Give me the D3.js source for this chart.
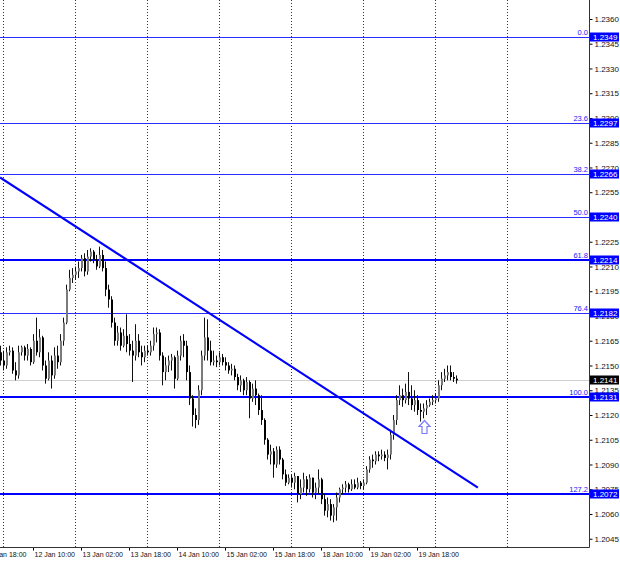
<!DOCTYPE html>
<html>
<head>
<meta charset="utf-8">
<script src="https://cdn.jsdelivr.net/npm/d3@7"></script>
<style>
  body { margin: 0; background: #fff; }
  svg { display: block; font-family: "Liberation Sans", Arial, sans-serif; }
</style>
</head>
<body>
<svg id="chart"></svg>
<script>
// H1 bars, bar 0 = 12 Jan 00:00 (weekend hours are skipped)
const firstBar = -1;
const firstOpen = 1.2158;
const closes = [
  1.2153, 1.2150, 1.2158, 1.2159, 1.2147, 1.2144, 1.2158, 1.2161, 1.2156, 1.2160, 1.2152,
  1.2165, 1.2158, 1.2167, 1.2150, 1.2142, 1.2153, 1.2144, 1.2156, 1.2152, 1.2165,
  1.2176, 1.2196, 1.2203, 1.2205, 1.2207, 1.2209, 1.2215, 1.2207, 1.2216, 1.2219,
  1.2214, 1.2210, 1.2217, 1.2209, 1.2196, 1.2190, 1.2176, 1.2165, 1.2170, 1.2162,
  1.2168, 1.2163, 1.2159, 1.2156, 1.2165, 1.2158, 1.2155, 1.2159, 1.2158, 1.2162,
  1.2169, 1.2170, 1.2156, 1.2146, 1.2150, 1.2153, 1.2155, 1.2142, 1.2156, 1.2165,
  1.2162, 1.2146, 1.2130, 1.2120, 1.2117, 1.2135, 1.2156, 1.2167, 1.2159, 1.2152,
  1.2153, 1.2152, 1.2155, 1.2152, 1.2150, 1.2147, 1.2148, 1.2143, 1.2138, 1.2141,
  1.2135, 1.2140, 1.2130, 1.2136, 1.2132, 1.2123, 1.2117, 1.2105, 1.2096, 1.2098,
  1.2090, 1.2099, 1.2093, 1.2084, 1.2079, 1.2082, 1.2079, 1.2083, 1.2072, 1.2076,
  1.2081, 1.2075, 1.2082, 1.2073, 1.2076, 1.2081, 1.2069, 1.2062, 1.2066, 1.2059,
  1.2064, 1.2070, 1.2075, 1.2076, 1.2078, 1.2075, 1.2078, 1.2076, 1.2079, 1.2077,
  1.2079, 1.2087, 1.2093, 1.2092, 1.2096, 1.2095, 1.2096, 1.2094, 1.2096, 1.2108,
  1.2117, 1.2129, 1.2132, 1.2129, 1.2134, 1.2130, 1.2126, 1.2129, 1.2123, 1.2122,
  1.2124, 1.2126, 1.2128, 1.2129, 1.2130, 1.2138, 1.2142, 1.2144, 1.2146, 1.2143, 1.2142, 1.2141
];
const highs = [
  1.2162, 1.2159, 1.2161, 1.2162, 1.2161, 1.2152, 1.2162, 1.2162, 1.2162, 1.2163, 1.2161,
  1.2169, 1.2179, 1.2172, 1.2168, 1.2153, 1.2158, 1.2156, 1.2161, 1.2162, 1.2169,
  1.2179, 1.2199, 1.2208, 1.2209, 1.2210, 1.2213, 1.2217, 1.2218, 1.2220, 1.2221,
  1.2220, 1.2217, 1.2222, 1.2220, 1.2213, 1.2199, 1.2192, 1.2179, 1.2174, 1.2173,
  1.2172, 1.2181, 1.2169, 1.2165, 1.2175, 1.2169, 1.2162, 1.2162, 1.2162, 1.2165,
  1.2173, 1.2173, 1.2172, 1.2158, 1.2155, 1.2156, 1.2157, 1.2156, 1.2159, 1.2168,
  1.2169, 1.2165, 1.2150, 1.2132, 1.2124, 1.2138, 1.2159, 1.2179, 1.2178, 1.2165,
  1.2159, 1.2156, 1.2158, 1.2157, 1.2155, 1.2152, 1.2151, 1.2150, 1.2145, 1.2144,
  1.2142, 1.2143, 1.2141, 1.2139, 1.2141, 1.2133, 1.2132, 1.2118, 1.2106, 1.2102,
  1.2100, 1.2101, 1.2101, 1.2094, 1.2087, 1.2084, 1.2084, 1.2085, 1.2082, 1.2081,
  1.2085, 1.2083, 1.2084, 1.2081, 1.2079, 1.2087, 1.2082, 1.2072, 1.2070, 1.2069,
  1.2066, 1.2073, 1.2076, 1.2078, 1.2080, 1.2079, 1.2081, 1.2081, 1.2082, 1.2080,
  1.2081, 1.2089, 1.2095, 1.2096, 1.2098, 1.2098, 1.2099, 1.2098, 1.2099, 1.2111,
  1.2120, 1.2132, 1.2138, 1.2136, 1.2139, 1.2146, 1.2138, 1.2135, 1.2132, 1.2127,
  1.2127, 1.2129, 1.2130, 1.2132, 1.2133, 1.2141, 1.2146, 1.2148, 1.2150, 1.2150, 1.2146, 1.2144
];
const lows = [
  1.2150, 1.2147, 1.2148, 1.2156, 1.2145, 1.2141, 1.2142, 1.2156, 1.2153, 1.2153, 1.2150,
  1.2151, 1.2156, 1.2155, 1.2147, 1.2139, 1.2141, 1.2136, 1.2142, 1.2148, 1.2150,
  1.2162, 1.2175, 1.2195, 1.2200, 1.2202, 1.2203, 1.2207, 1.2204, 1.2205, 1.2213,
  1.2212, 1.2208, 1.2209, 1.2207, 1.2192, 1.2185, 1.2173, 1.2162, 1.2162, 1.2159,
  1.2161, 1.2158, 1.2156, 1.2140, 1.2153, 1.2155, 1.2150, 1.2152, 1.2156, 1.2156,
  1.2159, 1.2164, 1.2153, 1.2138, 1.2141, 1.2146, 1.2147, 1.2136, 1.2141, 1.2153,
  1.2155, 1.2141, 1.2126, 1.2113, 1.2112, 1.2114, 1.2132, 1.2153, 1.2153, 1.2150,
  1.2150, 1.2149, 1.2150, 1.2150, 1.2147, 1.2145, 1.2144, 1.2141, 1.2135, 1.2134,
  1.2132, 1.2132, 1.2118, 1.2128, 1.2126, 1.2120, 1.2114, 1.2102, 1.2093, 1.2090,
  1.2082, 1.2088, 1.2090, 1.2081, 1.2077, 1.2078, 1.2076, 1.2075, 1.2067, 1.2069,
  1.2073, 1.2071, 1.2073, 1.2070, 1.2069, 1.2072, 1.2066, 1.2059, 1.2058, 1.2056,
  1.2055, 1.2056, 1.2067, 1.2072, 1.2073, 1.2073, 1.2074, 1.2075, 1.2075, 1.2075,
  1.2075, 1.2078, 1.2085, 1.2088, 1.2090, 1.2092, 1.2093, 1.2092, 1.2087, 1.2093,
  1.2105, 1.2114, 1.2126, 1.2125, 1.2127, 1.2126, 1.2123, 1.2122, 1.2120, 1.2116,
  1.2118, 1.2120, 1.2125, 1.2126, 1.2127, 1.2128, 1.2135, 1.2140, 1.2141, 1.2141, 1.2140, 1.2139
];

// fibonacci grid
const fibNames = ["0.0", "23.6", "38.2", "50.0", "61.8", "76.4", "100.0", "127.2"];
const fibLevels = [1.2349, 1.2297, 1.2266, 1.2240, 1.2214, 1.2182, 1.2131, 1.2072];
const lastPrice = 1.2141;

// axes
const priceTicks = [1.2045, 1.2060, 1.2075, 1.2090, 1.2105, 1.2120, 1.2135, 1.2150, 1.2165,
  1.2180, 1.2195, 1.2210, 1.2225, 1.2240, 1.2255, 1.2270, 1.2285, 1.2300, 1.2315, 1.2330,
  1.2345, 1.2360];
const timeTickBars = [-6, 10, 26, 42, 58, 74, 90, 106, 122, 138];
const timeTickLabels = ["11 Jan 18:00", "12 Jan 10:00", "13 Jan 02:00", "13 Jan 18:00",
  "14 Jan 10:00", "15 Jan 02:00", "15 Jan 18:00", "18 Jan 10:00", "19 Jan 02:00", "19 Jan 18:00"];
const daySeparatorBars = [0, 24, 48, 72, 96, 120, 144, 168];

// trend line and the arrow mark
const trendBars = [-1, 158.3];
const trendPrices = [1.2264, 1.2076];
const arrowBar = 140.3;
const arrowPrice = 1.2117;

const candles = closes.map((c, k) => {
  const o = k === 0 ? firstOpen : closes[k - 1];
  return { bar: firstBar + k, o: o, c: c, h: Math.max(highs[k], o, c), l: Math.min(lows[k], o, c) };
});

const width = 620, height = 563;
const plotW = 589, plotH = 547;

const svg = d3.select("#chart").attr("width", width).attr("height", height);

const x = d3.scaleLinear().domain([-1, 195.33]).range([0, plotW]);
const y = d3.scaleLinear().domain([1.2040, 1.23715]).range([plotH, 0]);

svg.append("defs").append("clipPath").attr("id", "plot")
  .append("rect").attr("width", plotW).attr("height", plotH);

const plot = svg.append("g").attr("clip-path", "url(#plot)");

// day separators
plot.selectAll("line.sep")
  .data(daySeparatorBars)
  .join("line")
  .attr("class", "sep")
  .attr("x1", d => Math.round(x(d)) + 0.5)
  .attr("x2", d => Math.round(x(d)) + 0.5)
  .attr("y1", 0)
  .attr("y2", plotH)
  .attr("stroke", "#333")
  .attr("stroke-dasharray", "1,2");

// current price line
plot.append("line")
  .attr("x1", 0).attr("x2", plotW)
  .attr("y1", Math.round(y(lastPrice)) + 0.5)
  .attr("y2", Math.round(y(lastPrice)) + 0.5)
  .attr("stroke", "#cfcfcf");

// fibo levels, three of them drawn heavier
const thick = ["61.8", "100.0", "127.2"];
plot.selectAll("line.fib")
  .data(fibLevels)
  .join("line")
  .attr("class", "fib")
  .attr("x1", 0).attr("x2", plotW)
  .attr("y1", (d, i) => thick.includes(fibNames[i]) ? Math.round(y(d)) : Math.round(y(d)) + 0.5)
  .attr("y2", (d, i) => thick.includes(fibNames[i]) ? Math.round(y(d)) : Math.round(y(d)) + 0.5)
  .attr("stroke", (d, i) => thick.includes(fibNames[i]) ? "#0000ff" : "#2b2bff")
  .attr("stroke-width", (d, i) => thick.includes(fibNames[i]) ? 2 : 1.2);

// candles
plot.selectAll("line.wick")
  .data(candles)
  .join("line")
  .attr("class", "wick")
  .attr("x1", d => Math.round(x(d.bar)) + 0.5)
  .attr("x2", d => Math.round(x(d.bar)) + 0.5)
  .attr("y1", d => y(d.h))
  .attr("y2", d => y(d.l))
  .attr("stroke", "#111");

plot.selectAll("rect.body")
  .data(candles)
  .join("rect")
  .attr("class", "body")
  .attr("x", d => Math.round(x(d.bar)))
  .attr("y", d => y(Math.max(d.o, d.c)))
  .attr("width", 2)
  .attr("height", d => Math.max(1, Math.abs(y(d.o) - y(d.c))))
  .attr("fill", d => d.c >= d.o ? "#7a7a7a" : "#000");

// trend line
plot.append("line")
  .attr("x1", x(trendBars[0])).attr("y1", y(trendPrices[0]))
  .attr("x2", x(trendBars[1])).attr("y2", y(trendPrices[1]))
  .attr("stroke", "#0000ff")
  .attr("stroke-width", 2.2);

// fibo captions
plot.selectAll("text.fibname")
  .data(fibLevels)
  .join("text")
  .attr("class", "fibname")
  .attr("x", plotW - 1)
  .attr("y", d => Math.round(y(d)) - 2)
  .attr("text-anchor", "end")
  .attr("font-size", 7.5)
  .attr("fill", "#1a1aff")
  .text((d, i) => fibNames[i]);

// hollow arrow
const ax = Math.round(x(arrowBar)) + 0.5, ay = Math.round(y(arrowPrice)) + 0.5;
svg.append("path")
  .attr("d", `M${ax},${ay} L${ax + 5.5},${ay + 6} L${ax + 2.5},${ay + 6} L${ax + 2.5},${ay + 13}
    L${ax - 2.5},${ay + 13} L${ax - 2.5},${ay + 6} L${ax - 5.5},${ay + 6} Z`)
  .attr("fill", "#fff")
  .attr("stroke", "#7b7bff")
  .attr("stroke-width", 1.2);

// right price axis
const yAxis = svg.append("g")
  .attr("transform", `translate(${plotW + 0.5},0)`)
  .call(d3.axisRight(y).tickValues(priceTicks).tickFormat(d3.format(".4f")).tickSize(3).tickSizeOuter(0));
yAxis.select(".domain").remove();
yAxis.attr("font-family", null).attr("font-size", null);
yAxis.selectAll("text").attr("x", 5).attr("font-size", 8).attr("fill", "#111");

// bottom time axis
const xAxis = svg.append("g")
  .attr("transform", `translate(0,${plotH + 0.5})`)
  .call(d3.axisBottom(x).tickValues(timeTickBars).tickFormat((d, i) => timeTickLabels[i]).tickSize(3).tickSizeOuter(0));
xAxis.select(".domain").remove();
xAxis.attr("font-family", null).attr("font-size", null);
xAxis.selectAll("text")
  .attr("text-anchor", "start")
  .attr("x", 1)
  .attr("y", 5)
  .attr("font-size", 7)
  .attr("fill", "#111");

// frame, right and bottom
svg.append("path")
  .attr("d", `M${plotW + 0.5},0 V${plotH + 0.5} H0`)
  .attr("fill", "none")
  .attr("stroke", "#333");

// price boxes on the axis
const boxes = fibLevels.map(p => ({ p: p, fill: "#0000ff" }));
boxes.push({ p: lastPrice, fill: "#000" });
const box = svg.selectAll("g.box")
  .data(boxes)
  .join("g")
  .attr("class", "box")
  .attr("transform", d => `translate(${plotW + 1},${Math.round(y(d.p))})`);
box.append("rect")
  .attr("x", 0).attr("y", -4.5)
  .attr("width", 29).attr("height", 9)
  .attr("fill", d => d.fill);
box.append("text")
  .attr("x", 3).attr("dy", "0.35em")
  .attr("font-size", 8)
  .attr("fill", "#fff")
  .text(d => d3.format(".4f")(d.p));
</script>
</body>
</html>
